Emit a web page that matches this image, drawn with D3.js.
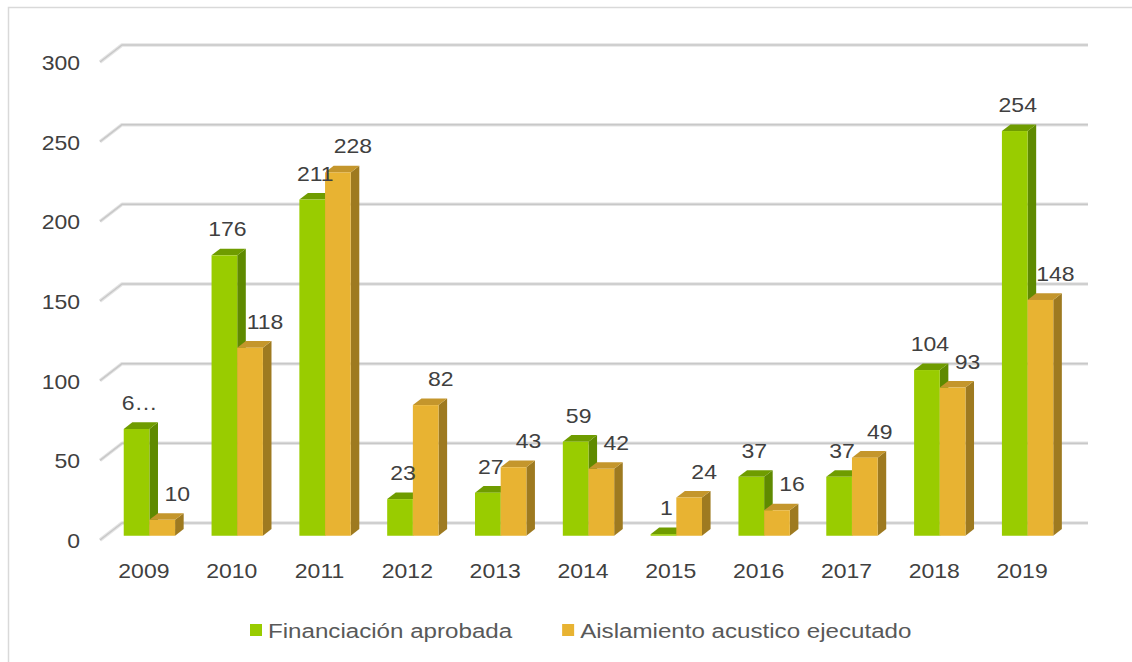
<!DOCTYPE html>
<html>
<head>
<meta charset="utf-8">
<script src="https://cdn.jsdelivr.net/npm/d3@7"></script>
<style>
  body { margin: 0; background: #fff; }
  text { font-family: "Liberation Sans", Arial, sans-serif; }
</style>
</head>
<body>
<div id="chart-area"></div>
<script>
var years = ["2009", "2010", "2011", "2012", "2013", "2014", "2015", "2016", "2017", "2018", "2019"];
var financiacion = [67, 176, 211, 23, 27, 59, 1, 37, 37, 104, 254];
var aislamiento = [10, 118, 228, 82, 43, 42, 24, 16, 49, 93, 148];
var financiacionLabels = ["6…", "176", "211", "23", "27", "59", "1", "37", "37", "104", "254"];
var yTicks = [0, 50, 100, 150, 200, 250, 300];
var seriesNames = ["Financiación aprobada", "Aislamiento acustico ejecutado"];

var width = 1132, height = 662;
var stretch = 1.15; // text in the source is drawn slightly wide
// front plane of the 3d box
var x0 = 100, x1 = 1066, yBottom = 540, yTop = 62;
var depthX = 22, depthY = -17;       // whole box depth
var barFront = 0.25, barBack = 0.64; // depth of bars inside the box

var series = [
    {name: seriesNames[0], values: financiacion, labels: financiacionLabels,
     front: "#99cc00", side: "#5f8a00", top: "#6f9c00", labelShift: 3},
    {name: seriesNames[1], values: aislamiento, labels: aislamiento.map(String),
     front: "#e8b332", side: "#9e7a20", top: "#c4962c", labelShift: 15}
];

var svg = d3.select("#chart-area").append("svg")
    .attr("width", width)
    .attr("height", height);

function addText(parent, x, y, str, anchor, size, color) {
    return parent.append("text")
        .attr("transform", "translate(" + x + "," + y + ") scale(" + stretch + ",1)")
        .attr("text-anchor", anchor)
        .attr("font-size", size)
        .attr("fill", color)
        .text(str);
}

svg.append("rect")
    .attr("x", 8.5).attr("y", 7.5)
    .attr("width", 1140).attr("height", 700)
    .attr("fill", "none")
    .attr("stroke", "#d9d9d9")
    .attr("stroke-width", 1.5);

var xScale = d3.scaleBand()
    .domain(years)
    .range([x0, x1]);

var yScale = d3.scaleLinear()
    .domain([0, 300])
    .range([yBottom, yTop]);

var inner = d3.scaleBand()
    .domain([0, 1])
    .range([0, xScale.bandwidth()])
    .paddingInner(0)
    .paddingOuter(0.71);

// gridlines on back wall + diagonal ticks
var grid = svg.append("g");
yTicks.forEach(function (t) {
    var y = yScale(t);
    var d = "M" + x0 + "," + y + "L" + (x0 + depthX) + "," + (y + depthY) +
        "L" + (x1 + depthX) + "," + (y + depthY);
    grid.append("path")
        .attr("d", d)
        .attr("fill", "none")
        .attr("stroke", "#e4e4e4")
        .attr("stroke-width", 3.5)
        .attr("stroke-linejoin", "round");
    grid.append("path")
        .attr("d", d)
        .attr("fill", "none")
        .attr("stroke", "#c8c8c8")
        .attr("stroke-width", 1.5)
        .attr("stroke-linejoin", "round");
});

var yAxis = svg.append("g");
yTicks.forEach(function (t) {
    addText(yAxis, 80, yScale(t) + 8, t, "end", 20, "#404040");
});

var xAxis = svg.append("g");
years.forEach(function (y) {
    addText(xAxis, xScale(y) + xScale.bandwidth() / 2, 578, y, "middle", 20, "#404040");
});

// 3d bars
var fdx = depthX * barFront, fdy = depthY * barFront;
var bdx = depthX * (barBack - barFront), bdy = depthY * (barBack - barFront);
var bars = svg.append("g");
var labels = [];
years.forEach(function (year, i) {
    series.forEach(function (s, k) {
        var v = s.values[i];
        var bx = xScale(year) + inner(k) + fdx;
        var bw = inner.bandwidth();
        var by = yScale(v) + fdy;
        var base = yScale(0) + fdy;
        var g = bars.append("g");
        // side
        g.append("path")
            .attr("d", "M" + (bx + bw) + "," + base + "L" + (bx + bw + bdx) + "," + (base + bdy) +
                "L" + (bx + bw + bdx) + "," + (by + bdy) + "L" + (bx + bw) + "," + by + "Z")
            .attr("fill", s.side);
        // top
        g.append("path")
            .attr("d", "M" + bx + "," + by + "L" + (bx + bdx) + "," + (by + bdy) +
                "L" + (bx + bw + bdx) + "," + (by + bdy) + "L" + (bx + bw) + "," + by + "Z")
            .attr("fill", s.top);
        // front
        g.append("rect")
            .attr("x", bx)
            .attr("y", by)
            .attr("width", bw)
            .attr("height", base - by)
            .attr("fill", s.front);
        labels.push({x: bx + bw / 2 + s.labelShift, y: by - 19, text: s.labels[i]});
    });
});

var lbls = svg.append("g");
labels.forEach(function (d) {
    addText(lbls, d.x, d.y, d.text, "middle", 20, "#404040");
});

// legend
var legend = svg.append("g");
var lx = 250;
series.forEach(function (s) {
    legend.append("rect")
        .attr("x", lx).attr("y", 624)
        .attr("width", 12).attr("height", 12)
        .attr("fill", s.front);
    var t = addText(legend, lx + 18, 638, s.name, "start", 21, "#595959");
    lx += 18 + t.node().getComputedTextLength() * stretch + 50;
});
</script>
</body>
</html>
